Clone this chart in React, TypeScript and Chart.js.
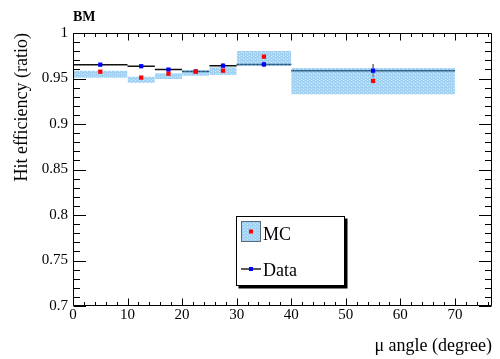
import React, { useEffect, useRef } from "react";
import { Chart, registerables } from "chart.js";

Chart.register(...registerables);

// ---- data ----
const binEdges = [0, 10, 15, 20, 25, 30, 40, 70];
const binCenters = [5, 12.5, 17.5, 22.5, 27.5, 35, 55];
const dataValues = [0.9652, 0.9635, 0.9598, 0.9578, 0.9641, 0.9655, 0.9586];
const dataErrors = [0.0015, 0.0015, 0.0015, 0.0015, 0.0025, 0.003, 0.0073];
const mcValues = [0.9575, 0.951, 0.9553, 0.9575, 0.9586, 0.974, 0.9473];
const mcLow = [0.9508, 0.9454, 0.9494, 0.953, 0.9538, 0.9637, 0.9326];
const mcHigh = [0.9586, 0.952, 0.9557, 0.9593, 0.9623, 0.9802, 0.9615];
const xMajorTicks = [0, 10, 20, 30, 40, 50, 60, 70];
const yMajorTicks = [0.7, 0.75, 0.8, 0.85, 0.9, 0.95, 1];
const xMinorStep = 2;
const yMinorStep = 0.01;
const xRange = [0, 76.8];
const yRange = [0.7, 1];
const titleText = "BM";
const xTitle = "\u03bc angle (degree)";
const yTitle = "Hit efficiency (ratio)";
const legendLabels = ["MC", "Data"];

const SERIF = '"Liberation Serif", "Times New Roman", serif';

function makePattern(ctx: CanvasRenderingContext2D): CanvasPattern | string {
  const c = document.createElement("canvas");
  c.width = 4;
  c.height = 3;
  const g = c.getContext("2d")!;
  g.fillStyle = "rgba(100,178,233,0.6)";
  g.fillRect(0, 0, 4, 3);
  g.clearRect(1, 1, 1, 1);
  g.clearRect(3, 2, 1, 1);
  g.fillStyle = "rgba(100,178,233,0.28)";
  g.fillRect(1, 1, 1, 1);
  g.fillRect(3, 2, 1, 1);
  return ctx.createPattern(c, "repeat") || "rgba(100,178,233,0.5)";
}

export default function App() {
  const ref = useRef<HTMLCanvasElement>(null);

  useEffect(() => {
    const canvas = ref.current!;
    const ctx0 = canvas.getContext("2d")!;
    const pattern = makePattern(ctx0);

    const datasets: any[] = [];

    // Data step line (horizontal segments)
    const linePts: any[] = [];
    dataValues.forEach((v, i) => {
      linePts.push({ x: binEdges[i], y: v }, { x: binEdges[i + 1], y: v }, { x: binEdges[i + 1], y: null });
    });
    datasets.push({
      label: "dataLine",
      data: linePts,
      borderColor: "#111",
      borderWidth: 1.5,
      pointRadius: 0,
      fill: false,
      spanGaps: false,
      order: 10,
    });

    // Data error bars
    const errPts: any[] = [];
    dataValues.forEach((v, i) => {
      errPts.push({ x: binCenters[i], y: v - dataErrors[i] }, { x: binCenters[i], y: v + dataErrors[i] }, { x: binCenters[i], y: null });
    });
    datasets.push({
      label: "dataErr",
      data: errPts,
      borderColor: "#222",
      borderWidth: 1,
      pointRadius: 0,
      fill: false,
      spanGaps: false,
      order: 9,
    });

    // MC uncertainty bands
    mcLow.forEach((lo, i) => {
      datasets.push({
        label: "mcBand" + i,
        data: [
          { x: binEdges[i], y: mcHigh[i] },
          { x: binEdges[i + 1], y: mcHigh[i] },
        ],
        fill: { value: lo },
        backgroundColor: pattern,
        borderColor: "rgba(0,0,0,0)",
        borderWidth: 0,
        pointRadius: 0,
        order: 5,
      });
    });

    // Data markers
    datasets.push({
      label: legendLabels[1],
      data: binCenters.map((x, i) => ({ x, y: dataValues[i] })),
      showLine: false,
      pointStyle: "rect",
      pointRadius: 3,
      backgroundColor: "#0000ff",
      borderWidth: 0,
      order: 2,
    });
    // MC markers
    datasets.push({
      label: legendLabels[0],
      data: binCenters.map((x, i) => ({ x, y: mcValues[i] })),
      showLine: false,
      pointStyle: "rect",
      pointRadius: 3,
      backgroundColor: "#ff0000",
      borderWidth: 0,
      order: 1,
    });

    const framePlugin = {
      id: "frameTicks",
      afterDatasetsDraw(chart: any) {
        const { ctx, chartArea: a, scales } = chart;
        const xs = scales.x;
        const ys = scales.y;
        ctx.save();
        ctx.strokeStyle = "#000";
        ctx.lineWidth = 1;
        const L = Math.round(a.left) + 0.5;
        const R = Math.round(a.right) - 0.5;
        const T = Math.round(a.top) + 0.5;
        const B = Math.round(a.bottom) - 0.5;
        ctx.beginPath();
        ctx.rect(L, T, R - L, B - T);
        ctx.stroke();
        ctx.beginPath();
        // x ticks
        for (let v = xRange[0]; v <= xRange[1] + 1e-9; v += xMinorStep) {
          const isMajor = xMajorTicks.some((t) => Math.abs(t - v) < 1e-6);
          const len = isMajor ? 7 : 3.5;
          const px = Math.round(xs.getPixelForValue(v)) + 0.5;
          ctx.moveTo(px, B);
          ctx.lineTo(px, B - len);
          ctx.moveTo(px, T);
          ctx.lineTo(px, T + len);
        }
        // y ticks
        for (let k = 0; k <= Math.round((yRange[1] - yRange[0]) / yMinorStep); k++) {
          const v = yRange[0] + k * yMinorStep;
          const isMajor = yMajorTicks.some((t) => Math.abs(t - v) < 1e-6);
          const len = isMajor ? 12.5 : 6.5;
          const py = Math.round(ys.getPixelForValue(v)) + 0.5;
          ctx.moveTo(L, py);
          ctx.lineTo(L + len, py);
          ctx.moveTo(R, py);
          ctx.lineTo(R - len, py);
        }
        ctx.stroke();
        ctx.restore();
      },
      afterDraw(chart: any) {
        const { ctx } = chart;
        ctx.save();
        // Title
        ctx.fillStyle = "#000";
        ctx.font = `bold 14px ${SERIF}`;
        ctx.textAlign = "left";
        ctx.textBaseline = "alphabetic";
        ctx.fillText(titleText, 73, 20.5);

        // Legend box
        const bx = 236.5, by = 216.5, bw = 108, bh = 69;
        ctx.fillStyle = "#000";
        ctx.fillRect(bx + 2, by + 2, bw + 1, bh + 1);
        ctx.fillStyle = "#fff";
        ctx.fillRect(bx, by, bw, bh);
        ctx.strokeStyle = "#000";
        ctx.lineWidth = 1;
        ctx.strokeRect(bx, by, bw, bh);

        // MC swatch
        ctx.fillStyle = pattern as any;
        ctx.fillRect(241, 221, 20, 21);
        ctx.strokeStyle = "#5a6a7a";
        ctx.strokeRect(241.5, 221.5, 19, 20);
        ctx.fillStyle = "#ff0000";
        ctx.fillRect(249, 229.5, 4, 4);

        // Data swatch
        ctx.strokeStyle = "#222";
        ctx.lineWidth = 1.5;
        ctx.beginPath();
        ctx.moveTo(241, 269);
        ctx.lineTo(261, 269);
        ctx.stroke();
        ctx.fillStyle = "#0000ff";
        ctx.fillRect(249, 267, 4, 4);

        ctx.fillStyle = "#000";
        ctx.font = `18px ${SERIF}`;
        ctx.textBaseline = "middle";
        ctx.fillText(legendLabels[0], 263, 235);
        ctx.fillText(legendLabels[1], 263, 271);
        ctx.restore();
      },
    };

    const fmt = (v: number) => String(Number(v.toFixed(2)));

    const chart = new Chart(canvas, {
      type: "line",
      data: { datasets },
      options: {
        animation: false,
        responsive: false,
        maintainAspectRatio: false,
        devicePixelRatio: 1,
        layout: { padding: { top: 33, right: 8, left: 0, bottom: 0 } },
        plugins: {
          legend: { display: false },
          tooltip: { enabled: false },
          title: { display: false },
        },
        scales: {
          x: {
            type: "linear",
            min: xRange[0],
            max: xRange[1],
            grid: { display: false, drawTicks: false },
            border: { display: false },
            afterBuildTicks: (s: any) => {
              s.ticks = xMajorTicks.map((v) => ({ value: v }));
            },
            afterFit: (s: any) => {
              s.height = 53;
            },
            ticks: {
              padding: 0,
              color: "#000",
              font: { family: SERIF, size: 15 },
              maxRotation: 0,
              autoSkip: false,
              callback: (v: any) => fmt(Number(v)),
            },
            title: {
              display: true,
              text: xTitle,
              align: "end",
              color: "#000",
              font: { family: SERIF, size: 18 },
              padding: { top: 0, bottom: 2 },
            },
          },
          y: {
            type: "linear",
            min: yRange[0],
            max: yRange[1],
            grid: { display: false, drawTicks: false },
            border: { display: false },
            afterBuildTicks: (s: any) => {
              s.ticks = yMajorTicks.map((v) => ({ value: v }));
            },
            afterFit: (s: any) => {
              s.width = 73;
            },
            ticks: {
              padding: 5,
              color: "#000",
              font: { family: SERIF, size: 15 },
              autoSkip: false,
              callback: (v: any) => fmt(Number(v)),
            },
            title: {
              display: true,
              text: yTitle,
              align: "end",
              color: "#000",
              font: { family: SERIF, size: 18 },
              padding: { top: 11, bottom: 0 },
            },
          },
        },
      } as any,
      plugins: [framePlugin],
    });

    return () => chart.destroy();
  }, []);

  return (
    <div style={{ position: "fixed", left: 0, top: 0, width: 500, height: 359, background: "#fff" }}>
      <canvas ref={ref} width={500} height={359} style={{ display: "block", width: 500, height: 359 }} />
    </div>
  );
}
